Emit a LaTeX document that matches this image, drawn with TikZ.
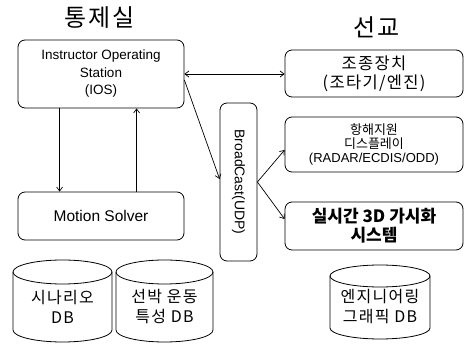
\documentclass[tikz,border=0pt]{standalone}
\usepackage{fontspec}
\setmainfont{Liberation Sans}
\newfontfamily\kr{Noto Sans CJK KR}
\newfontfamily\krwide{Noto Sans CJK KR}[LetterSpace=8]
\usetikzlibrary{arrows.meta}

% database drum: #1 left x, #2 right x, #3 top y, #4 bottom y, #5 x radius, #6 y radius
\newcommand\dbdrum[6]{%
  \draw[dbline] ({(#1+#2)/2},{#3+#6}) ellipse [x radius=#5pt, y radius=#6pt];
  \draw[dbline] (#1,{#3+#6}) -- (#1,{#4-#6})
    arc [start angle=180, end angle=360, x radius=#5pt, y radius=#6pt]
    -- (#2,{#3+#6});
}

\begin{document}
\begin{tikzpicture}[x=1pt, y=-1pt,
  box/.style={draw, line width=0.8pt, rounded corners=7pt, inner sep=0pt,
    align=center},
  link/.style={draw, line width=0.7pt, -{Straight Barb[length=4pt,width=6pt]}},
  dbline/.style={draw, line width=0.8pt},
  dbtext/.style={align=center, font=\krwide\fontsize{16}{20}\selectfont},
  title/.style={font=\krwide\fontsize{24}{24}\selectfont}]
\useasboundingbox (0,0) rectangle (466,344);

% headings
\node[title] (ttl) at (100,18) {통제실};
\node[title] (ttr) at (377,27) {선교};

% control room side
\node[box, minimum width=166pt, minimum height=68pt,
  font=\fontsize{13.5}{17.5}\selectfont] (ios) at (101,74)
  {Instructor Operating\\Station\\(IOS)};
\node[box, minimum width=166pt, minimum height=48pt,
  font=\fontsize{15.5}{18}\selectfont] (ms) at (101,216) {Motion Solver};

% broadcast bus
\node[box, minimum width=37pt, minimum height=158pt] (bc) at (238.5,182) {};
\node[rotate=-90, font=\fontsize{14}{16}\selectfont] (bclabel) at (bc.center)
  {BroadCast(UDP)};

% bridge side
\node[box, minimum width=178pt, minimum height=47pt,
  font=\krwide\fontsize{16.5}{19}\selectfont] (ctrl) at (374,73.5)
  {조종장치\\(조타기/엔진)};
\node[box, minimum width=178pt, minimum height=55pt,
  font=\kr\fontsize{13}{14}\selectfont] (nav) at (374,144.5)
  {항해지원\\디스플레이\\{\rmfamily\fontsize{13}{14}\selectfont (RADAR/ECDIS/ODD)}};
\node[box, minimum width=178pt, minimum height=48pt,
  font=\kr\bfseries\fontsize{17}{19}\selectfont] (viz) at (374,226)
  {실시간 3D 가시화\\시스템};

% connectors
\draw[link] ([xshift=42pt]ios.south west) -- ([xshift=42pt]ms.north west);
\draw[link] ([xshift=119pt]ms.north west) -- ([xshift=119pt]ios.south west);
\draw[link, {Straight Barb[length=4pt,width=6pt]}-{Straight Barb[length=4pt,width=6pt]}]
  (ios.east) -- (ios.east -| ctrl.west);
\draw[link] ([yshift=-6pt]ios.east) -- ([yshift=3pt]bc.west);
\draw[link] (bc.east) -- ([yshift=-5.5pt]nav.west);
\draw[link] (bc.east) -- ([yshift=7pt]viz.west);

% databases
\dbdrum{13}{112}{260}{342}{49.5}{12}
\node[dbtext] (db1) at (62.5,307) {시나리오\\DB};
\dbdrum{116}{213}{260}{342}{48.5}{12}
\node[dbtext] (db2) at (164.5,307) {선박 운동\\특성 DB};
\dbdrum{330}{430}{265}{339}{50}{11}
\node[dbtext] (db3) at (380,307) {엔지니어링\\그래픽 DB};
\end{tikzpicture}
\end{document}
